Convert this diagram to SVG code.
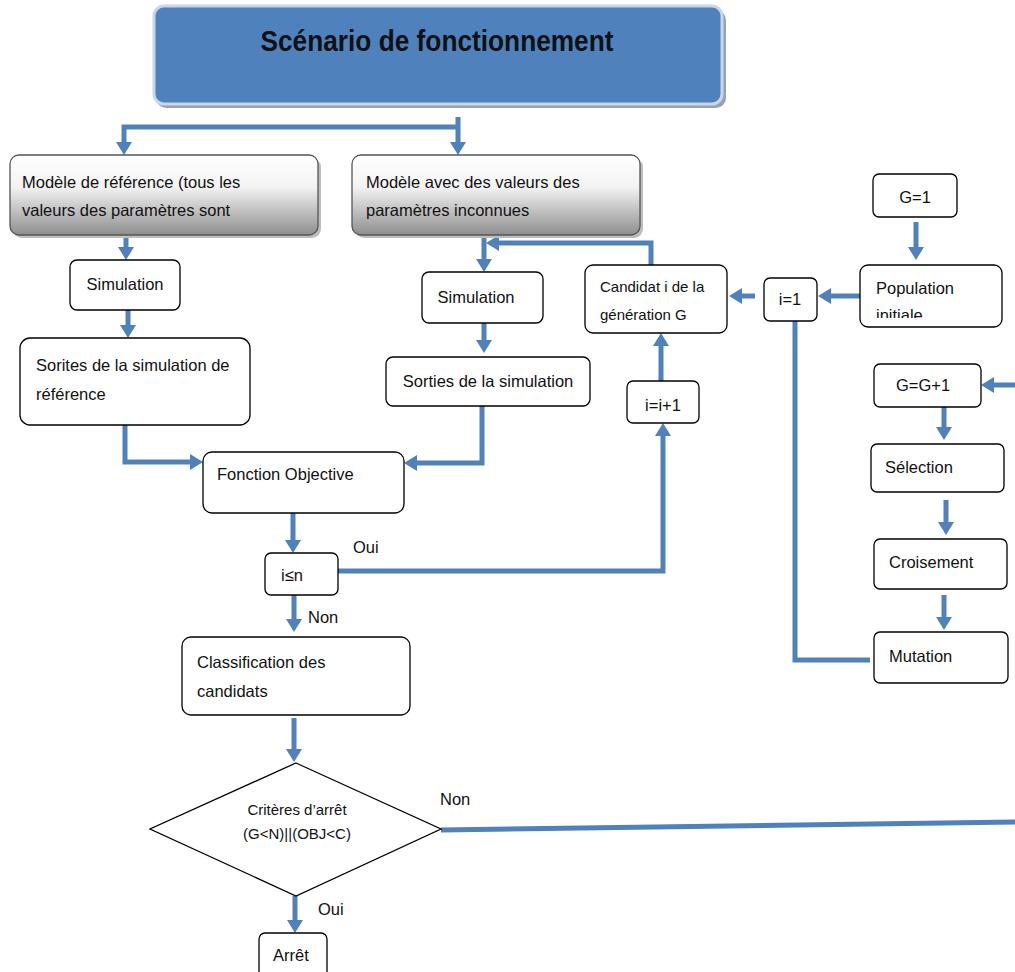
<svg xmlns="http://www.w3.org/2000/svg" width="1015" height="972" viewBox="0 0 1015 972">
<style>
text{font-family:"Liberation Sans",Arial,sans-serif;font-size:16.5px;fill:#111}
.box{fill:#fff;stroke:#000;stroke-width:1.3}
.gbox{fill:url(#g);stroke:#555;stroke-width:1.3}
.sh{fill:#bdbdbd}
.c{fill:none;stroke:#4F81BD;stroke-width:5}
.a{marker-end:url(#ah)}
.m{text-anchor:middle}
.s{font-size:15px}
</style>
<defs>
<linearGradient id="g" x1="0" y1="0" x2="0" y2="1">
<stop offset="0" stop-color="#ffffff"/>
<stop offset="0.4" stop-color="#f3f3f3"/>
<stop offset="1" stop-color="#8e8e8e"/>
</linearGradient>
<marker id="ah" markerUnits="userSpaceOnUse" markerWidth="14" markerHeight="16" viewBox="0 0 14 16" refX="1" refY="8" orient="auto">
<path d="M0,0 L13,8 L0,16 z" fill="#4F81BD"/>
</marker>
</defs>

<g id="title">
<rect x="156" y="10" width="570" height="98" rx="10" fill="#9aa3ad"/>
<rect x="154" y="6" width="568" height="98" rx="10" fill="#4F81BD" stroke="#c9d6ea" stroke-width="3"/>
<text x="437" y="51" class="m" style="font-size:29px;font-weight:bold" textLength="353" lengthAdjust="spacingAndGlyphs">Scénario de fonctionnement</text>
</g>

<g id="connectors">
<path class="c a" d="M458,117 V143"/>
<path class="c a" d="M458,127 H124 V143"/>
<path class="c a" d="M126,236 V248"/>
<path class="c a" d="M128,310 V326"/>
<path class="c a" d="M125,425 V462 H191"/>
<path class="c a" d="M484,236 V260"/>
<path class="c a" d="M651,265 V243 H498"/>
<path class="c a" d="M484,323 V341"/>
<path class="c a" d="M482,406 V463 H416"/>
<path class="c a" d="M755,296 H741"/>
<path class="c a" d="M860,296 H830"/>
<path class="c a" d="M916,222 V248"/>
<path class="c" d="M795,321 V660 H870"/>
<path class="c a" d="M1015,385 H993"/>
<path class="c a" d="M944,407 V428"/>
<path class="c a" d="M946,500 V523"/>
<path class="c a" d="M944,595 V618"/>
<path class="c a" d="M293,513 V541"/>
<path class="c a" d="M338,571 H663 V435"/>
<path class="c a" d="M661,381 V345"/>
<path class="c a" d="M294,595 V620"/>
<path class="c a" d="M294,718 V750"/>
<path class="c" d="M441,830 L1015,822"/>
<path class="c a" d="M295,896 V921"/>
</g>

<g id="modele-ref">
<rect class="sh" x="13" y="158" width="308" height="80" rx="9"/>
<rect class="gbox" x="10" y="155" width="308" height="80" rx="9"/>
<text x="22" y="188">Modèle de référence (tous les</text>
<text x="22" y="216">valeurs des paramètres sont</text>
</g>

<g id="modele-inc">
<rect class="sh" x="355" y="158" width="288" height="80" rx="9"/>
<rect class="gbox" x="352" y="155" width="288" height="80" rx="9"/>
<text x="366" y="188">Modèle avec des valeurs des</text>
<text x="366" y="216">paramètres inconnues</text>
</g>

<g id="sim1">
<rect class="box" x="70" y="260" width="110" height="50" rx="7"/>
<text x="125" y="290" class="m">Simulation</text>
</g>

<g id="sorties-ref">
<rect class="box" x="20" y="338" width="230" height="87" rx="10"/>
<text x="36" y="371">Sorites de la simulation de</text>
<text x="36" y="400">référence</text>
</g>

<g id="sim2">
<rect class="box" x="422" y="272" width="121" height="51" rx="7"/>
<text x="476" y="303" class="m">Simulation</text>
</g>

<g id="sorties">
<rect class="box" x="386" y="357" width="204" height="49" rx="7"/>
<text x="488" y="387" class="m">Sorties de la simulation</text>
</g>

<g id="candidat">
<rect class="box" x="585" y="265" width="142" height="68" rx="8"/>
<text x="600" y="292" class="s">Candidat i de la</text>
<text x="600" y="320" class="s">génération G</text>
</g>

<g id="i1">
<rect class="box" x="764" y="278" width="53" height="43" rx="6"/>
<text x="790" y="305" class="m">i=1</text>
</g>

<g id="population">
<rect class="box" x="860" y="265" width="142" height="62" rx="8"/>
<text x="876" y="294">Population</text>
<svg x="860" y="265" width="142" height="53" overflow="hidden"><text x="16" y="56">initiale</text></svg>
</g>

<g id="g1">
<rect class="box" x="873" y="174" width="84" height="43" rx="6"/>
<text x="915" y="203" class="m">G=1</text>
</g>

<g id="gg1">
<rect class="box" x="874" y="364" width="107" height="43" rx="6"/>
<text x="923" y="391" class="m">G=G+1</text>
</g>

<g id="selection">
<rect class="box" x="871" y="444" width="133" height="48" rx="6"/>
<text x="885" y="473">Sélection</text>
</g>

<g id="croisement">
<rect class="box" x="874" y="539" width="133" height="50" rx="6"/>
<text x="889" y="568">Croisement</text>
</g>

<g id="mutation">
<rect class="box" x="874" y="632" width="134" height="51" rx="6"/>
<text x="889" y="662">Mutation</text>
</g>

<g id="ii1">
<rect class="box" x="627" y="381" width="72" height="42" rx="6"/>
<text x="663" y="411" class="m">i=i+1</text>
</g>

<g id="fonction">
<rect class="box" x="203" y="452" width="201" height="61" rx="9"/>
<text x="217" y="480">Fonction Objective</text>
</g>

<g id="iln">
<rect class="box" x="265" y="553" width="73" height="42" rx="6"/>
<text x="281" y="581">i≤n</text>
</g>
<text x="353" y="553">Oui</text>
<text x="308" y="623">Non</text>

<g id="classification">
<rect class="box" x="182" y="637" width="228" height="78" rx="9"/>
<text x="197" y="668">Classification des</text>
<text x="197" y="697">candidats</text>
</g>

<g id="criteres">
<polygon class="box" points="296,763 441,829 296,896 150,829"/>
<text x="297" y="815" class="m s">Critères d’arrêt</text>
<text x="297" y="839" class="m s">(G&lt;N)||(OBJ&lt;C)</text>
</g>
<text x="440" y="805">Non</text>
<text x="318" y="915">Oui</text>

<g id="arret">
<rect class="box" x="259" y="933" width="68" height="50" rx="6"/>
<text x="273" y="961">Arrêt</text>
</g>
</svg>
